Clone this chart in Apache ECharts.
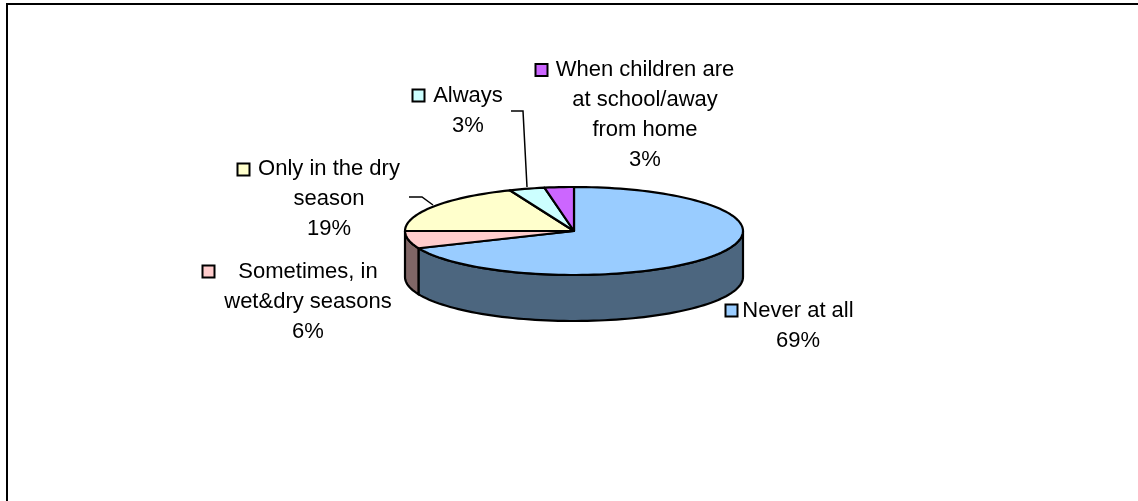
<!DOCTYPE html>
<html><head><meta charset="utf-8">
<style>html,body{margin:0;padding:0;background:#fff}#c{width:1138px;height:501px}</style>
<script src="https://cdn.jsdelivr.net/npm/echarts@6/dist/echarts.min.js"></script>
</head><body><div id="c"></div>
<script>
const categories = ['Never at all','Sometimes, in wet&dry seasons','Only in the dry season','Always','When children are at school/away from home'];
const values = [68.6,6.4,18.8,3.4,2.8];
const colors = ['#99CCFF','#FFCCCC','#FFFFCC','#CCFFFF','#CC66FF'];
const wallColors = ['#4C667F','#806666','#80806A','#668080','#663380'];
const labelNames = [['Never at all'],['Sometimes, in','wet&dry seasons'],['Only in the dry','season'],['Always'],['When children are','at school/away','from home']];

const pie = {cx:574, cy:231, rx:169, ry:44, depth:46};
const labelLayout = [
 {x:798, y:296, key:[725,304]},
 {x:308, y:257, key:[202,265]},
 {x:329, y:154, key:[237,163]},
 {x:468, y:81, key:[412,89]},
 {x:645, y:55, key:[535,63.5]}
];
const leaders = [
 [[511,111],[523,111],[527,187]],
 [[409,197],[422,197],[433,205]]
];
const total = values.reduce((a,b)=>a+b,0);
function pt(deg, dy){ const r=deg*Math.PI/180; return [pie.cx+pie.rx*Math.sin(r), pie.cy-pie.ry*Math.cos(r)+(dy||0)]; }
function arc(a0,a1,dy){ const n=Math.max(2,Math.ceil(Math.abs(a1-a0)/2)); const p=[]; for(let i=0;i<=n;i++) p.push(pt(a0+(a1-a0)*i/n,dy)); return p; }
function angles(i){ let s=0; for(let k=0;k<i;k++) s+=values[k]; return [s/total*360,(s+values[i])/total*360]; }
const line={stroke:'#000',lineWidth:2.2,lineJoin:'round'};

const seriesData = values.map((v,i)=>({name:categories[i],value:[i,v]}));
const option={
 animation:false,
 backgroundColor:'#fff',
 graphic:{elements:[
  {type:'polyline',silent:true,shape:{points:[[7,501],[7,4],[1138,4]]},style:{stroke:'#000',lineWidth:2,fill:null}}
 ]},
 series:[
  {type:'custom',coordinateSystem:'none',z:2,data:seriesData,silent:true,renderItem(p,api){
    const i=api.value(0); const [a0,a1]=angles(i);
    const lo=Math.max(a0,90), hi=Math.min(a1,270);
    if(hi<=lo) return {type:'group',children:[]};
    const pts=arc(lo,hi,0).concat(arc(hi,lo,pie.depth));
    return {type:'polygon',shape:{points:pts},style:Object.assign({fill:wallColors[i]},line)};
  }},
  {type:'custom',coordinateSystem:'none',z:3,data:seriesData,silent:true,renderItem(p,api){
    const i=api.value(0); const [a0,a1]=angles(i);
    const pts=[[pie.cx,pie.cy]].concat(arc(a0,a1,0));
    return {type:'polygon',shape:{points:pts},style:Object.assign({fill:colors[i]},line)};
  }},
  {type:'custom',coordinateSystem:'none',z:4,data:seriesData,silent:true,renderItem(p,api){
    const i=api.value(0), L=labelLayout[i];
    const txt=labelNames[i].concat(Math.round(api.value(1))+'%').join('\n');
    return {type:'group',children:[
      {type:'rect',shape:{x:L.key[0]+.5,y:L.key[1]+.5,width:12,height:12},style:{fill:colors[i],stroke:'#000',lineWidth:2}},
      {type:'text',style:{x:L.x,y:L.y,text:txt,align:'center',verticalAlign:'top',fill:'#000',font:'22px "Liberation Sans"',lineHeight:30}}
    ]};
  }},
  {type:'custom',coordinateSystem:'none',z:4,data:leaders.map((l,i)=>[i]),silent:true,renderItem(p,api){
    return {type:'polyline',shape:{points:leaders[api.value(0)]},style:{stroke:'#000',lineWidth:1.5,fill:null}};
  }}
 ]
};
const chart=echarts.init(document.getElementById('c'),null,{renderer:'canvas'});
chart.setOption(option);
</script></body></html>
